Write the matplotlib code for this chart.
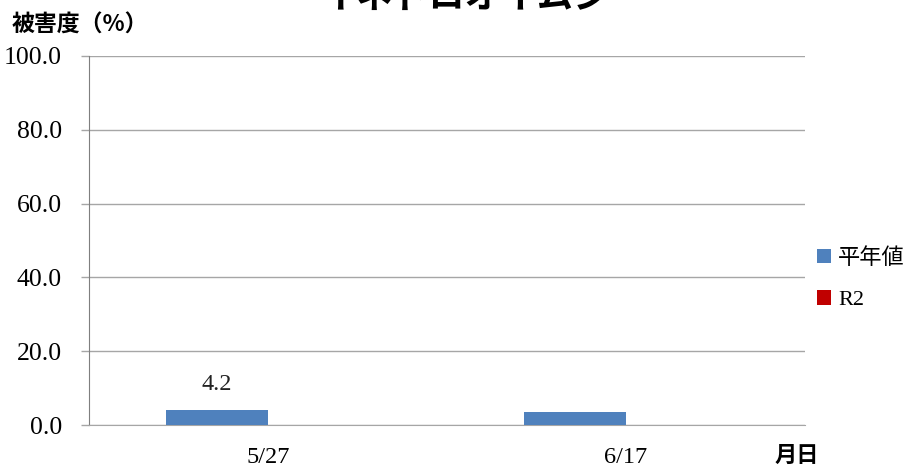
import matplotlib.pyplot as plt
import numpy as np
from matplotlib.patches import Patch

# 調査日ごとの被害度
dates = ["5/27", "6/17"]
heinen = [4.2, 3.4]
r2 = [np.nan, np.nan]
value_labels = ["4.2", ""]
series_names = ["平年値", "R2"]
colors = ["#4F81BD", "#C00000"]
y_ticks = [0, 20, 40, 60, 80, 100]

serif = ["Liberation Serif", "Noto Sans CJK JP"]
plt.rcParams["font.family"] = serif

fig = plt.figure(figsize=(9.09, 4.69), dpi=100)
ax = fig.add_axes([89 / 909, 1 - 425 / 469, (805 - 89) / 909, (425 - 56) / 469])

x = np.arange(len(dates))
w = 0.285
bars = ax.bar(x - w / 2, heinen, width=w, color=colors[0], zorder=3)
ax.bar(x + w / 2, r2, width=w, color=colors[1], zorder=3)

for b, lab in zip(bars, value_labels):
    if lab:
        ax.text(b.get_x() + b.get_width() / 2, b.get_height() + 4.0, lab,
                ha="center", va="bottom", fontsize=17.5, color="#222222")

ax.set_xlim(-0.5, len(dates) - 0.5)
ax.set_ylim(0, 100)
ax.set_yticks(y_ticks)
ax.set_yticklabels([f"{v:.1f}" for v in y_ticks])
ax.set_xticks(x)
ax.set_xticklabels(dates)

ax.grid(axis="y", color="#A6A6A6", linewidth=1, zorder=0)
ax.tick_params(axis="y", length=6, width=1, color="#A6A6A6", labelsize=18.5, pad=13.5)
ax.tick_params(axis="x", length=0, labelsize=17.5, pad=15.5)
for side in ["top", "right"]:
    ax.spines[side].set_visible(False)
ax.spines["bottom"].set_color("#A6A6A6")
ax.spines["left"].set_color("#7F7F7F")

fig.text(12 / 909, 1 - 25 / 469, "被害度（%）", fontsize=16.5, fontweight="bold",
         family="Noto Sans CJK JP", va="center", ha="left")
fig.text(797 / 909, 1 - 455 / 469, "月日", fontsize=16, fontweight="bold",
         family="Noto Sans CJK JP", va="center", ha="center")
fig.text(465 / 909, 1 - 8 / 469, "イネドロオイムシ", fontsize=26, fontweight="bold",
         family="Noto Sans CJK JP", va="baseline", ha="center")

handles = [Patch(facecolor=c, edgecolor="none") for c in colors]
fig.legend(handles, series_names, loc="upper left",
           bbox_to_anchor=(797 / 909, 1 - 228 / 469), frameon=False,
           fontsize=16, handlelength=0.65, handleheight=0.65, handletextpad=0.3,
           labelspacing=0.95)

fig.savefig("out.png", dpi=100)
